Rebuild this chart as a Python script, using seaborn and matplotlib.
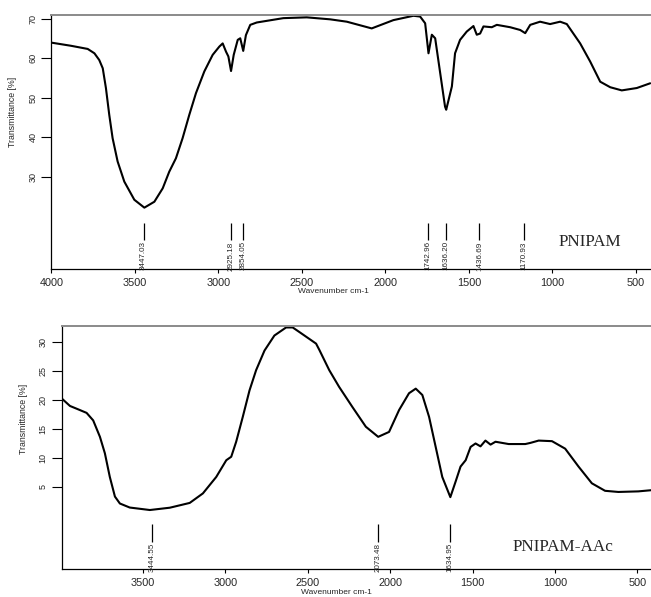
import matplotlib
matplotlib.use("Agg")
import matplotlib.pyplot as plt
from matplotlib import font_manager
import seaborn as sns

# FTIR spectrum, PNIPAM (wavenumber cm-1, transmittance %)
pnipam_wn = [4000, 3882, 3782, 3742, 3713, 3692, 3673, 3653, 3633, 3603, 3563, 3503,
             3443, 3383, 3333, 3294, 3254, 3214, 3174, 3134, 3084, 3034, 2994, 2974,
             2954, 2940, 2924, 2908, 2884, 2869, 2851, 2835, 2809, 2770, 2611, 2471,
             2331, 2231, 2082, 1952, 1832, 1792, 1762, 1742, 1722, 1702, 1672, 1643,
             1636, 1602, 1583, 1553, 1513, 1473, 1453, 1433, 1413, 1363, 1333, 1253,
             1193, 1163, 1133, 1074, 1014, 954, 914, 834, 774, 714, 654, 585, 495, 415]
pnipam_t = [64.0, 63.2, 62.4, 61.3, 59.6, 57.5, 52.5, 45.7, 39.8, 33.9, 28.8, 24.2,
            22.2, 23.7, 27.1, 31.3, 34.7, 39.8, 45.7, 51.2, 56.7, 60.9, 63.0, 63.8,
            61.7, 60.5, 56.8, 60.9, 64.7, 65.1, 61.9, 65.9, 68.5, 69.1, 70.2, 70.4,
            69.9, 69.3, 67.6, 69.7, 70.8, 70.6, 68.9, 61.3, 66.0, 65.1, 56.3, 47.8,
            47.0, 52.9, 61.3, 64.7, 66.8, 68.2, 66.0, 66.3, 68.1, 67.9, 68.5, 67.9,
            67.2, 66.4, 68.5, 69.3, 68.7, 69.3, 68.7, 63.8, 59.2, 54.1, 52.7, 51.9,
            52.5, 53.7]
pnipam_peaks = [3447.03, 2925.18, 2854.05, 1742.96, 1636.20, 1436.69, 1170.93]

# FTIR spectrum, PNIPAM-AAc
aac_wn = [3994, 3944, 3893, 3843, 3803, 3762, 3732, 3702, 3671, 3641, 3581, 3459,
          3338, 3217, 3137, 3056, 2995, 2965, 2935, 2895, 2854, 2814, 2763, 2703,
          2632, 2592, 2551, 2450, 2430, 2370, 2310, 2229, 2148, 2073, 2007, 1946,
          1886, 1845, 1805, 1764, 1724, 1684, 1635, 1603, 1573, 1542, 1512, 1482,
          1452, 1422, 1391, 1361, 1281, 1180, 1149, 1099, 1018, 938, 857, 776, 696,
          615, 494, 417]
aac_t = [20.3, 19.0, 18.4, 17.8, 16.5, 13.65, 10.8, 6.7, 3.3, 2.1, 1.4, 0.97,
         1.37, 2.2, 3.85, 6.7, 9.6, 10.2, 12.8, 17.1, 21.7, 25.2, 28.6, 31.2,
         32.6, 32.6, 31.8, 29.8, 28.7, 25.2, 22.3, 18.8, 15.4, 13.65, 14.5, 18.3,
         21.2, 22.0, 20.9, 17.1, 11.9, 6.7, 3.2, 5.9, 8.5, 9.6, 11.9, 12.5,
         12.0, 13.0, 12.3, 12.8, 12.4, 12.4, 12.6, 13.0, 12.9, 11.6, 8.5, 5.6, 4.3,
         4.1, 4.2, 4.4]
aac_peaks = [3444.55, 2073.48, 1634.95]

x_ticks = [4000, 3500, 3000, 2500, 2000, 1500, 1000, 500]

sns.set_theme(style="ticks")
names = {f.name for f in font_manager.fontManager.ttflist}
narrow = "Liberation Sans Narrow" if "Liberation Sans Narrow" in names else "Liberation Sans"
plt.rcParams["font.family"] = ["Liberation Sans", "DejaVu Sans"]


def style_axes(ax, xlim, ylim, yticks, label_xy, xlabel_xy):
    ax.set_xlim(*xlim)
    ax.set_ylim(*ylim)
    ax.set_xticks([t for t in x_ticks if xlim[1] <= t <= xlim[0]])
    ax.set_yticks(yticks)
    ax.tick_params(axis="x", length=3, width=0.8, labelsize=7.8, pad=3, color="black")
    ax.tick_params(axis="y", length=7, width=0.8, labelsize=6.5, pad=3, color="black")
    for lab in ax.get_yticklabels():
        lab.set_rotation(90)
        lab.set_va("center")
        lab.set_family([narrow, "DejaVu Sans"])
    ax.spines["right"].set_visible(False)
    ax.spines["top"].set_color("#8a8a8a")
    ax.spines["top"].set_linewidth(1.4)
    for s in ("left", "bottom"):
        ax.spines[s].set_color("black")
        ax.spines[s].set_linewidth(0.9)
    ax.set_ylabel("Transmittance [%]", fontsize=6.3, family=[narrow, "DejaVu Sans"])
    ax.yaxis.set_label_coords(*label_xy)
    ax.set_xlabel("Wavenumber cm-1", fontsize=6)
    ax.xaxis.set_label_coords(*xlabel_xy)
    ax.grid(False)


def mark_peaks(ax, peaks, y0, y1):
    ax.vlines(peaks, y0, y1, color="black", lw=0.9)
    for p in peaks:
        ax.text(p, y0 - 0.05 * (y1 - y0), f"{p:.2f}", rotation=90, ha="center",
                va="top", fontsize=5.8, family=[narrow, "DejaVu Sans"])


fig = plt.figure(figsize=(6.51, 5.97), dpi=100)
ax1 = fig.add_axes([0.0788, 0.549, 0.9212, 0.4259])
ax2 = fig.add_axes([0.0948, 0.0464, 0.9052, 0.408])

sns.lineplot(x=pnipam_wn, y=pnipam_t, ax=ax1, color="black", lw=1.5,
             sort=False, estimator=None)
style_axes(ax1, (4000, 410), (6.6, 71.0), [30, 40, 50, 60, 70],
           (-0.057, 0.62), (0.47, -0.075))
mark_peaks(ax1, pnipam_peaks, 13.9, 18.4)
ax1.text(0.898, 0.107, "PNIPAM", transform=ax1.transAxes, ha="center", va="center",
         fontsize=12.3, family=["Liberation Serif", "DejaVu Serif"])

sns.lineplot(x=aac_wn, y=aac_t, ax=ax2, color="black", lw=1.5,
             sort=False, estimator=None)
style_axes(ax2, (3994, 417), (-9.3, 32.9), [5, 10, 15, 20, 25, 30],
           (-0.057, 0.617), (0.467, -0.08))
mark_peaks(ax2, aac_peaks, -4.6, -1.45)
ax2.text(0.851, 0.0915, "PNIPAM-AAc", transform=ax2.transAxes, ha="center",
         va="center", fontsize=12.3, family=["Liberation Serif", "DejaVu Serif"])

fig.savefig("out.png", dpi=100)
